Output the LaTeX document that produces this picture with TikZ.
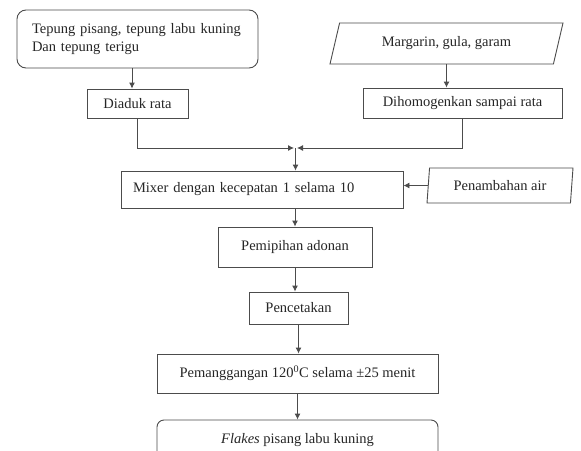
\documentclass[tikz,border=0pt]{standalone}
\usepackage{fontspec}
\setmainfont{Liberation Serif}
\usetikzlibrary{positioning,
	shapes.geometric,
	arrows.meta}

\begin{document}
\begin{tikzpicture}[x=1pt, y=-1pt,
		font=\fontsize{14.5}{17.5}\selectfont, text=black!85,
		>={Latex[length=6pt,width=6pt]},
		line/.style={draw=black!70, line width=0.9pt},
		proses/.style={line, rectangle, inner sep=0pt},
		bahan/.style={line, trapezium, trapezium stretches body, inner sep=0pt}]
				\clip (0,0) rectangle (581,450);
				\fill[white] (0,0) rectangle (581,450);
				% bahan awal
				\node[proses, rounded corners=9pt, minimum height=58, text width=211, inner xsep=15, align=left] (tepung) at (137.5,39) {Tepung pisang, tepung labu kuning\\Dan tepung terigu};
				\node[proses, minimum width=101, minimum height=29] (diaduk) at (137.5,103.5) {Diaduk rata};
				\node[bahan, trapezium left angle=54, trapezium right angle=126, minimum width=233, minimum height=41] (margarin) at (446.5,43.5) {Margarin, gula, garam};
				\node[proses, minimum width=199, minimum height=30] (homogen) at (462.5,103) {Dihomogenkan sampai rata};
				\coordinate (gabung) at (295.5,148);
				% proses utama
				\node[proses, minimum height=37, text width=258, inner xsep=12, align=left] (mixer) at (262,189.5) {Mixer dengan kecepatan 1 selama 10};
				\node[bahan, trapezium left angle=76, trapezium right angle=104, minimum width=146, minimum height=35] (air) at (500,185.5) {Penambahan air};
				\node[proses, minimum width=154, minimum height=40] (pemipihan) at (295,247) {Pemipihan adonan};
				\node[proses, minimum width=99, minimum height=32] (pencetakan) at (298.5,308) {Pencetakan};
				\node[proses, minimum width=281, minimum height=39] (panggang) at (297.5,373.5) {Pemanggangan 120\textsuperscript{0}C selama ±25 menit};
				\node[proses, rounded corners=7pt, minimum width=281, minimum height=40] (flakes) at (297.5,440) {\textit{Flakes} pisang labu kuning};
				% panah
				\draw[line,->] ([xshift=-5.5]tepung.south) -- ([xshift=-5.5]diaduk.north);
				\draw[line,->] (margarin.south) -- (margarin.south |- homogen.north);
				\draw[line,->] (diaduk.south) |- ([xshift=-1.5]gabung);
				\draw[line,->] (homogen.south) |- ([xshift=1.5]gabung);
				\draw[line,->] (gabung) -- (gabung |- mixer.north);
				\draw[line,->] (air.west) -- (air.west -| mixer.east);
				\draw[line,->] (pemipihan.north |- mixer.south) -- (pemipihan.north);
				\draw[line,->] (pemipihan.south) -- (pemipihan.south |- pencetakan.north);
				\draw[line,->] (pencetakan.south) -- (pencetakan.south |- panggang.north);
				\draw[line,->] (panggang.south) -- (flakes.north);
			\end{tikzpicture}
\end{document}
